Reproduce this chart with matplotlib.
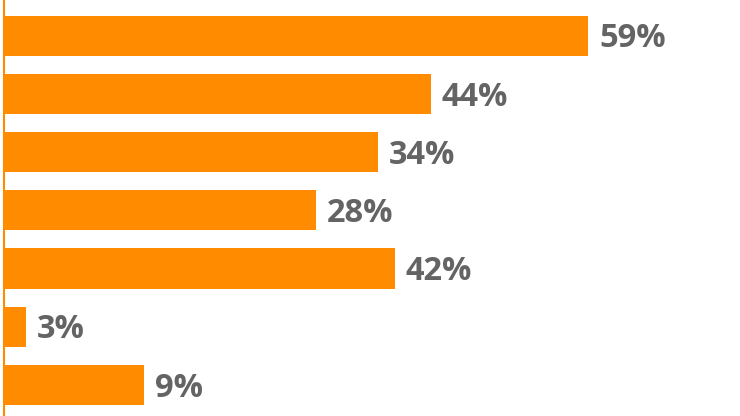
import matplotlib
matplotlib.use("Agg")
import matplotlib.pyplot as plt

# Data (bar lengths as drawn, and their printed labels)
categories = ["A", "B", "C", "D", "E", "F", "G"]
bar_lengths = [59.0, 43.1, 37.8, 31.5, 39.5, 2.2, 14.1]
value_labels = ["59%", "44%", "34%", "28%", "42%", "3%", "9%"]

W, H = 740, 416
fig = plt.figure(figsize=(W / 100, H / 100), dpi=100)
left_px = 4
ax = fig.add_axes([left_px / W, 0, 1 - left_px / W, 1])

orange = "#FF8C00"
ypos = list(range(len(categories)))
ax.barh(ypos, bar_lengths, height=0.69, color=orange, edgecolor="none")

# scale: 59 units -> 584 px
px_per_unit = 584 / 59.0
ax.set_xlim(0, (W - left_px) / px_per_unit)
pitch = 58.18
c0 = 35.8
ax.set_ylim((H - c0) / pitch, -c0 / pitch)

fs = 23.5
cap_px = 0.714 * fs * 100 / 72
for y, v, lab in zip(ypos, bar_lengths, value_labels):
    ax.text(v + 11 / px_per_unit, y + (cap_px / 2) / pitch, lab,
            va="baseline", ha="left",
            fontsize=fs, fontweight="bold", color="#646464",
            family=["Open Sans", "DejaVu Sans"])

for s in ["top", "right", "bottom"]:
    ax.spines[s].set_visible(False)
ax.spines["left"].set_color(orange)
ax.spines["left"].set_linewidth(1.5)
ax.set_xticks([])
ax.set_yticks([])
ax.patch.set_alpha(0)

fig.savefig("out.png", dpi=100)
